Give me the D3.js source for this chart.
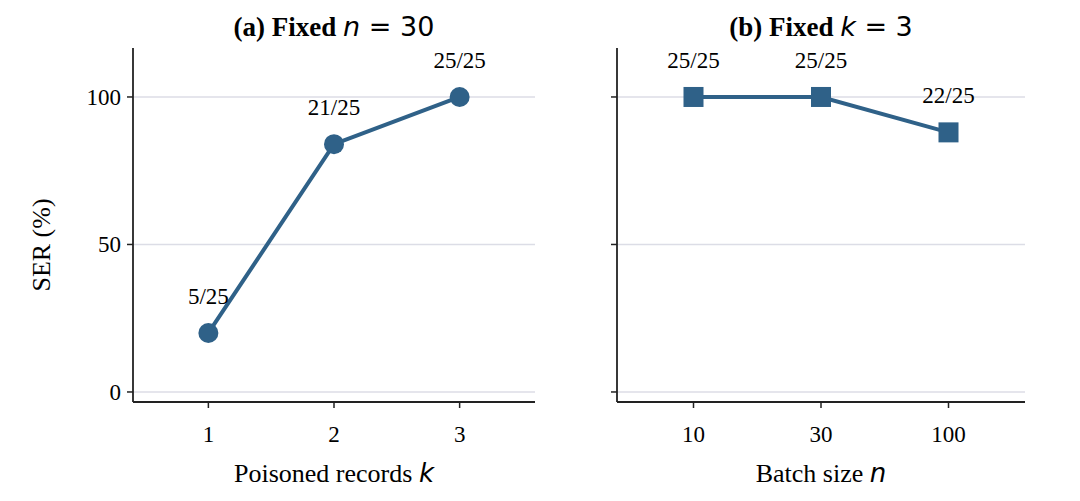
<!DOCTYPE html>
<html><head><meta charset="utf-8">
<script src="https://cdn.jsdelivr.net/npm/d3@7"></script>
<style>body{margin:0;background:#fff}text{font-family:"Liberation Serif","Times New Roman",serif}</style>
</head><body><svg id="c" width="1080" height="501"></svg>
<script>
const kCats = ["1", "2", "3"]
const kSer = [20, 84, 100]
const kLabels = ["5/25", "21/25", "25/25"]
const nCats = ["10", "30", "100"]
const nSer = [100, 100, 88]
const nLabels = ["25/25", "25/25", "22/25"]
const yTicks = [0, 50, 100]
const color = "#2f6188"

const svg = d3.select("#c")
const y = d3.scaleLinear().domain([-3.4, 116.6]).range([402, 48])

const panel = (x0, x1, cats, vals, labels, marker, title, mathVar, mathVal, xlab, xvar, showY) => {
    const g = svg.append("g")
    const x = d3.scalePoint().domain(cats).range([x0, x1]).padding(0.6)
    yTicks.forEach(t => g.append("line").attr("x1", x0).attr("x2", x1)
        .attr("y1", y(t)).attr("y2", y(t)).attr("stroke", "#dcdde6").attr("stroke-width", 1.5))
    // axes
    g.append("line").attr("x1", x0).attr("x2", x0).attr("y1", 48).attr("y2", 402).attr("stroke", "#222").attr("stroke-width", 1.8)
    g.append("line").attr("x1", x0).attr("x2", x1).attr("y1", 402).attr("y2", 402).attr("stroke", "#222").attr("stroke-width", 1.8)
    yTicks.forEach(t => {
        g.append("line").attr("x1", x0 - 6).attr("x2", x0).attr("y1", y(t)).attr("y2", y(t)).attr("stroke", "#222").attr("stroke-width", 1.5)
        if (showY) g.append("text").attr("x", x0 - 12).attr("y", y(t) + 8).attr("text-anchor", "end").attr("font-size", 23).text(t)
    })
    cats.forEach(c => {
        g.append("line").attr("x1", x(c)).attr("x2", x(c)).attr("y1", 402).attr("y2", 408).attr("stroke", "#222").attr("stroke-width", 1.5)
        g.append("text").attr("x", x(c)).attr("y", 442).attr("text-anchor", "middle").attr("font-size", 23).text(c)
    })
    const line = d3.line().x((d, i) => x(cats[i])).y(d => y(d))
    g.append("path").datum(vals).attr("d", line).attr("fill", "none").attr("stroke", color).attr("stroke-width", 4)
    vals.forEach((v, i) => {
        if (marker === "circle") g.append("circle").attr("cx", x(cats[i])).attr("cy", y(v)).attr("r", 10).attr("fill", color)
        else g.append("rect").attr("x", x(cats[i]) - 10).attr("y", y(v) - 10).attr("width", 20).attr("height", 20).attr("fill", color)
        g.append("text").attr("x", x(cats[i])).attr("y", y(v) - 29).attr("text-anchor", "middle").attr("font-size", 23).text(labels[i])
    })
    const cx = (x0 + x1) / 2
    const t = g.append("text").attr("x", cx).attr("y", 36).attr("text-anchor", "middle").attr("font-size", 27)
    t.append("tspan").attr("font-weight", "bold").text(title + " ")
    t.append("tspan").style("font-family", "DejaVu Sans").attr("font-style", "italic").text(mathVar)
    t.append("tspan").style("font-family", "DejaVu Sans").text(" = " + mathVal)
    const xl = g.append("text").attr("x", cx).attr("y", 482).attr("text-anchor", "middle").attr("font-size", 26)
    xl.append("tspan").text(xlab + " ")
    xl.append("tspan").style("font-family", "DejaVu Sans").attr("font-style", "italic").text(xvar)
}

panel(133, 535, kCats, kSer, kLabels, "circle", "(a) Fixed", "n", "30", "Poisoned records", "k", true)
panel(617, 1025, nCats, nSer, nLabels, "square", "(b) Fixed", "k", "3", "Batch size", "n", false)

svg.append("text").attr("transform", "translate(50,245) rotate(-90)").attr("text-anchor", "middle").attr("font-size", 26).text("SER (%)")
</script></body></html>
